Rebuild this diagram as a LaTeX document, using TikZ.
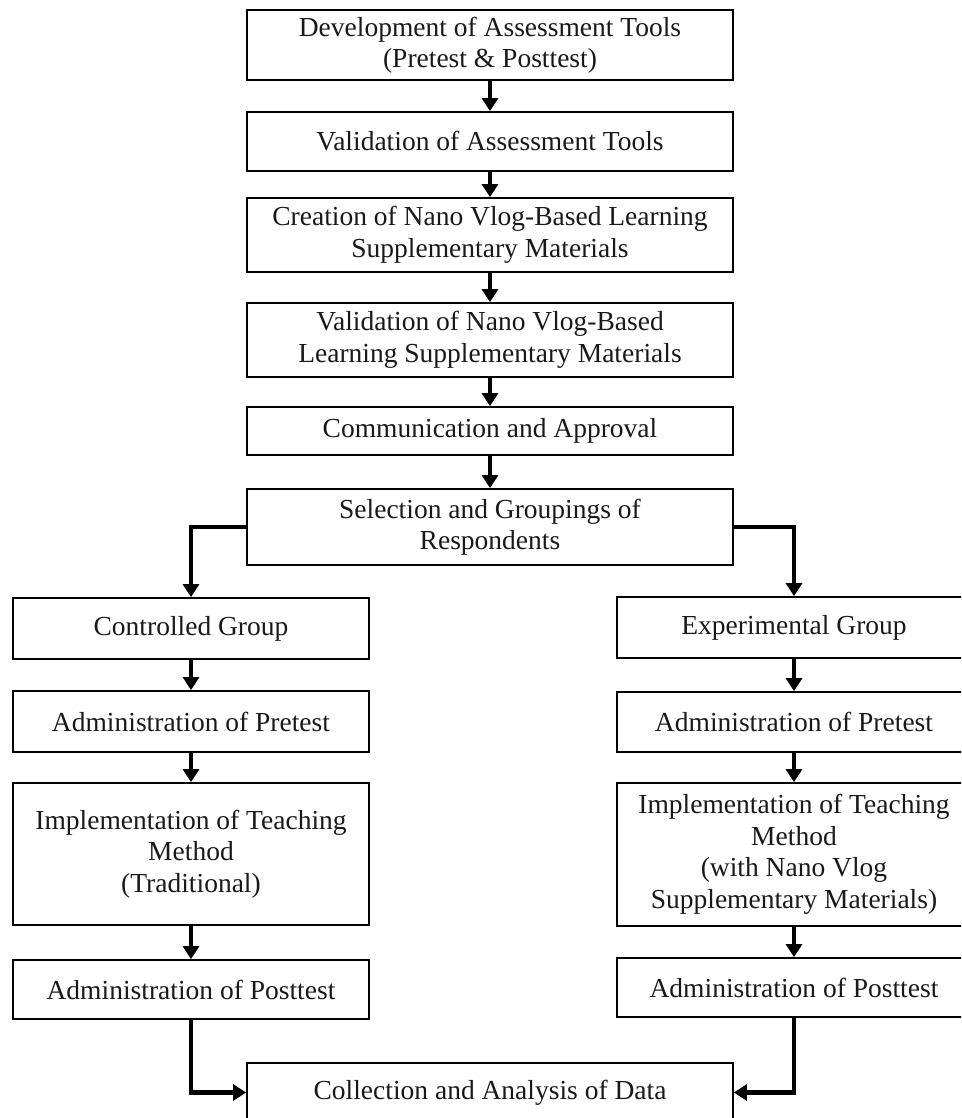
\documentclass[tikz,border=0pt]{standalone}
\usepackage{fontspec}
\setmainfont{Liberation Serif}
\usetikzlibrary{arrows.meta,positioning}
\begin{document}
\begin{tikzpicture}[x=1pt,y=-1pt,
  box/.style={draw=black,line width=1.8pt,rectangle,inner sep=0pt,align=center,
    font=\fontsize{27.5}{31.5}\selectfont,text=black!90},
  link/.style={line width=4.5pt,-{Triangle[width=16pt,length=13pt]}},
  elbow/.style={line width=4.5pt,-{Triangle[width=16pt,length=13pt]}}]
\useasboundingbox (0,0) rectangle (961,1118);
\clip (0,0) rectangle (961,1118);
% top column
\node[box,minimum width=486pt,minimum height=70pt] (b1) at (490,45) {Development of Assessment Tools\\(Pretest \& Posttest)};
\node[box,minimum width=486pt,minimum height=59pt] (b2) at (490,141.5) {Validation of Assessment Tools};
\node[box,minimum width=486pt,minimum height=74pt] (b3) at (490,235) {Creation of Nano Vlog-Based Learning\\Supplementary Materials};
\node[box,minimum width=486pt,minimum height=74pt] (b4) at (490,340) {Validation of Nano Vlog-Based\\Learning Supplementary Materials};
\node[box,minimum width=486pt,minimum height=48pt] (b5) at (490,431) {Communication and Approval};
\node[box,minimum width=486pt,minimum height=76pt] (b6) at (490,527) {Selection and Groupings of\\Respondents};
% left column
\node[box,minimum width=356pt,minimum height=61pt] (c1) at (191,628.5) {Controlled Group};
\node[box,minimum width=356pt,minimum height=61pt] (c2) at (191,721.5) {Administration of Pretest};
\node[box,minimum width=356pt,minimum height=142pt] (c3) at (191,854) {Implementation of Teaching\\Method\\(Traditional)};
\node[box,minimum width=356pt,minimum height=59pt] (c4) at (191,989.5) {Administration of Posttest};
% right column
\node[box,minimum width=354pt,minimum height=61pt] (e1) at (794,627.5) {Experimental Group};
\node[box,minimum width=354pt,minimum height=60pt] (e2) at (794,722) {Administration of Pretest};
\node[box,minimum width=354pt,minimum height=143pt] (e3) at (794,854.5) {Implementation of Teaching\\Method\\(with Nano Vlog\\Supplementary Materials)};
\node[box,minimum width=354pt,minimum height=59pt] (e4) at (794,987.5) {Administration of Posttest};
% bottom
\node[box,minimum width=486pt,minimum height=59pt] (d) at (490,1092.5) {Collection and Analysis of Data};
% connectors
\draw[link] (b1) -- (b2);
\draw[link] (b2) -- (b3);
\draw[link] (b3) -- (b4);
\draw[link] (b4) -- (b5);
\draw[link] (b5) -- (b6);
\draw[elbow] (b6.west) -| (c1.north);
\draw[elbow] (b6.east) -| (e1.north);
\draw[link] (c1) -- (c2);
\draw[link] (c2) -- (c3);
\draw[link] (c3) -- (c4);
\draw[link] (e1) -- (e2);
\draw[link] (e2) -- (e3);
\draw[link] (e3) -- (e4);
\draw[elbow] (c4.south) |- (d.west);
\draw[elbow] (e4.south) |- (d.east);
\end{tikzpicture}
\end{document}
